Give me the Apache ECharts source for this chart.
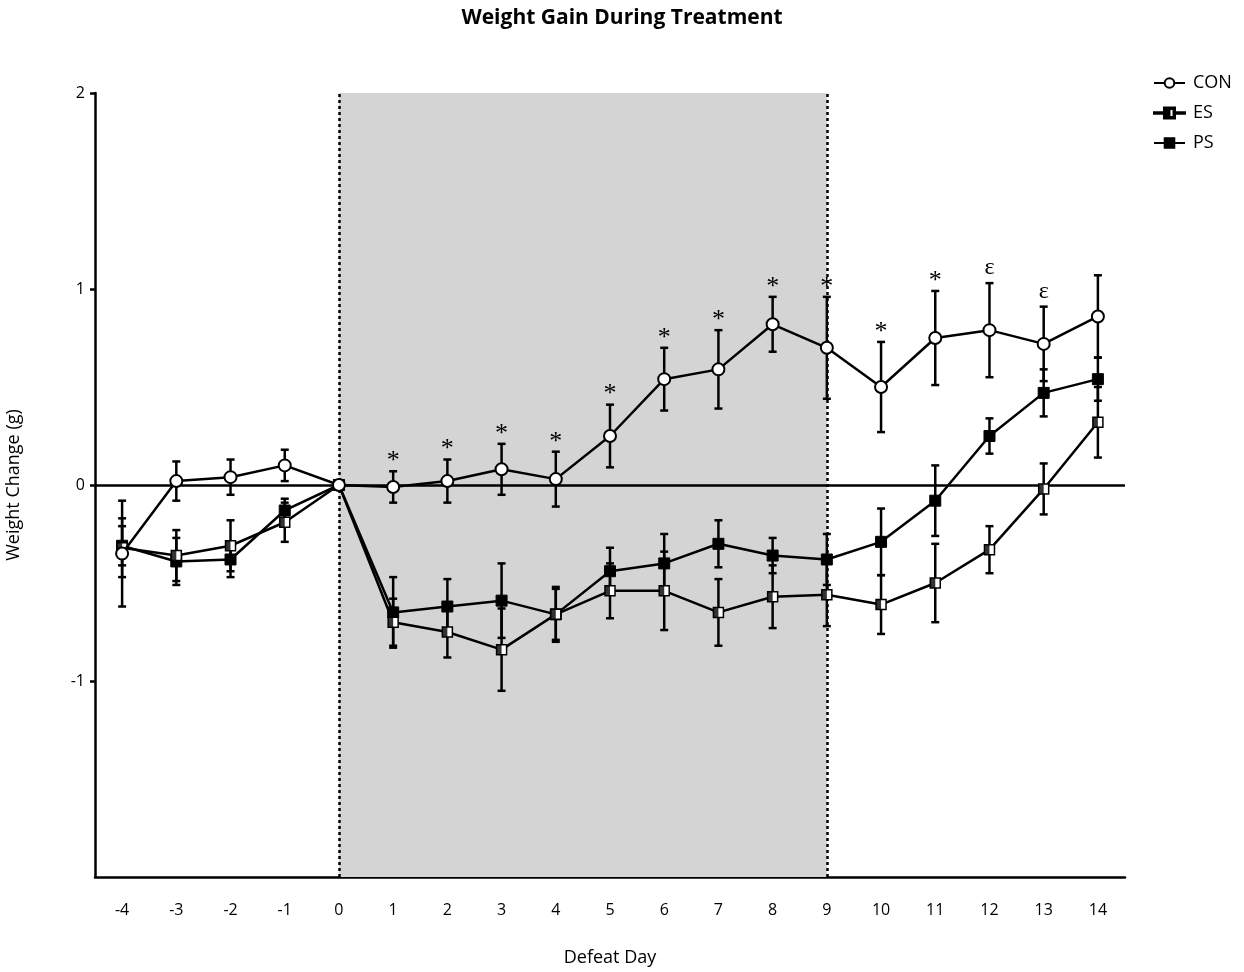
<!DOCTYPE html>
<html>
<head>
<meta charset="utf-8">
<script src="https://cdn.jsdelivr.net/npm/echarts@6/dist/echarts.min.js"></script>
<style>
  html, body { margin: 0; padding: 0; background: #fff; }
  #chart { width: 1244px; height: 972px; }
</style>
</head>
<body>
<div id="chart"></div>
<script>
// defeat days
const days = ['-4', '-3', '-2', '-1', '0', '1', '2', '3', '4', '5', '6', '7', '8', '9', '10', '11', '12', '13', '14']

// mean weight change (g) and error per group
const conMean = [-0.35, 0.02, 0.04, 0.10, 0, -0.01, 0.02, 0.08, 0.03, 0.25, 0.54, 0.59, 0.82, 0.70, 0.50, 0.75, 0.79, 0.72, 0.86]
const conErr = [0.27, 0.10, 0.09, 0.08, 0, 0.08, 0.11, 0.13, 0.14, 0.16, 0.16, 0.20, 0.14, 0.26, 0.23, 0.24, 0.24, 0.19, 0.21]
const esMean = [-0.32, -0.36, -0.31, -0.19, 0, -0.70, -0.75, -0.84, -0.66, -0.54, -0.54, -0.65, -0.57, -0.56, -0.61, -0.50, -0.33, -0.02, 0.32]
const esErr = [0.15, 0.13, 0.13, 0.10, 0, 0.12, 0.13, 0.21, 0.13, 0.14, 0.20, 0.17, 0.16, 0.16, 0.15, 0.20, 0.12, 0.13, 0.18]
const psMean = [-0.31, -0.39, -0.38, -0.13, 0, -0.65, -0.62, -0.59, -0.66, -0.44, -0.40, -0.30, -0.36, -0.38, -0.29, -0.08, 0.25, 0.47, 0.54]
const psErr = [0.10, 0.12, 0.09, 0.06, 0, 0.18, 0.14, 0.19, 0.14, 0.12, 0.15, 0.12, 0.09, 0.13, 0.17, 0.18, 0.09, 0.12, 0.11]

// significance marks above CON
const marks = ['', '', '', '', '', '*', '*', '*', '*', '*', '*', '*', '*', '*', '*', '*', 'ε', 'ε', '']

// y ticks shown (no label at -2)
const yTicks = [-1, 0, 1, 2]

// treatment window
const treatStart = '0'
const treatEnd = '9'

const font = 'Open Sans'

// half filled square on a line, for the ES legend entry (31 x 12 box)
const esIcon = 'path://M0,5.2H10V6.8H0Z M10,0.5H21V11.5H10Z M15.5,2V10H19.5V2Z M21,5.2H31V6.8H21Z'

function errData(mean, err) {
  return mean.map((m, i) => [i, m - err[i], m + err[i]])
}

function errBars(params, api) {
  const lo = api.coord([api.value(0), api.value(1)])
  const hi = api.coord([api.value(0), api.value(2)])
  if (Math.abs(lo[1] - hi[1]) < 1) return
  const w = 4
  const style = { stroke: '#000', lineWidth: 2.5 }
  return {
    type: 'group',
    children: [
      { type: 'line', shape: { x1: lo[0], y1: lo[1], x2: hi[0], y2: hi[1] }, style },
      { type: 'line', shape: { x1: lo[0] - w, y1: lo[1], x2: lo[0] + w, y2: lo[1] }, style },
      { type: 'line', shape: { x1: hi[0] - w, y1: hi[1], x2: hi[0] + w, y2: hi[1] }, style },
    ],
  }
}

let markData = []
marks.forEach((m, i) => {
  if (m) markData.push([i, conMean[i] + conErr[i], m])
})

const chart = echarts.init(document.getElementById('chart'))

const option = {
  animation: false,
  title: {
    text: 'Weight Gain During Treatment',
    left: 'center',
    top: 3,
    textStyle: { fontFamily: font, fontSize: 21, fontWeight: 'bold', color: '#000' },
  },
  legend: {
    orient: 'vertical',
    left: 1148,
    top: 69,
    itemGap: 12,
    itemWidth: 31,
    itemHeight: 12,
    textStyle: { fontFamily: font, fontSize: 18, color: '#000', padding: [0, 0, 0, 3] },
    data: [
      { name: 'CON' },
      { name: 'ES', icon: esIcon, itemStyle: { color: '#000' } },
      { name: 'PS' },
    ],
  },
  grid: { left: 95, right: 119, top: 93, bottom: 95, outerBoundsMode: 'none' },
  xAxis: {
    type: 'category',
    data: days,
    name: 'Defeat Day',
    nameLocation: 'middle',
    nameGap: 72,
    nameTextStyle: { fontFamily: font, fontSize: 18, color: '#000' },
    axisLine: { onZero: false, lineStyle: { color: '#000', width: 2.5 } },
    axisTick: { alignWithLabel: true, length: 6, lineStyle: { color: '#000', width: 2.5 } },
    axisLabel: { fontFamily: font, fontSize: 16, color: '#000', margin: 25 },
    splitLine: { show: false },
  },
  yAxis: {
    type: 'value',
    min: -2,
    max: 2,
    interval: 1,
    name: 'Weight Change (g)',
    nameLocation: 'middle',
    nameGap: 72,
    nameTextStyle: { fontFamily: font, fontSize: 18, color: '#000' },
    axisLine: { show: true, lineStyle: { color: '#000', width: 2.5 } },
    axisTick: { show: true, length: 5, customValues: yTicks, lineStyle: { color: '#000', width: 2.5 } },
    axisLabel: { fontFamily: font, fontSize: 16, color: '#000', margin: 10, customValues: yTicks },
    splitLine: { show: false },
  },
  series: [
    {
      name: 'shade',
      type: 'line',
      data: [],
      silent: true,
      z: 0,
      markArea: {
        silent: true,
        itemStyle: { color: '#d4d4d4' },
        data: [[{ xAxis: treatStart }, { xAxis: treatEnd }]],
      },
      markLine: {
        silent: true,
        symbol: 'none',
        label: { show: false },
        lineStyle: { color: '#000', width: 2.5, type: [3, 3] },
        data: [{ xAxis: treatStart }, { xAxis: treatEnd }],
      },
    },
    {
      name: 'zero',
      type: 'line',
      data: [],
      silent: true,
      z: 1,
      markLine: {
        silent: true,
        symbol: 'none',
        label: { show: false },
        lineStyle: { color: '#000', width: 2.5, type: 'solid' },
        data: [{ yAxis: 0 }],
      },
    },
    {
      name: 'conErr',
      type: 'custom',
      renderItem: errBars,
      data: errData(conMean, conErr),
      z: 3,
      silent: true,
    },
    {
      name: 'esErr',
      type: 'custom',
      renderItem: errBars,
      data: errData(esMean, esErr),
      z: 3,
      silent: true,
    },
    {
      name: 'psErr',
      type: 'custom',
      renderItem: errBars,
      data: errData(psMean, psErr),
      z: 3,
      silent: true,
    },
    {
      name: 'PS',
      type: 'line',
      data: psMean,
      symbol: 'rect',
      symbolSize: 11,
      showAllSymbol: true,
      lineStyle: { color: '#000', width: 2.5 },
      itemStyle: { color: '#000', borderColor: '#000', borderWidth: 1 },
      z: 4,
    },
    {
      name: 'ES',
      type: 'line',
      data: esMean,
      symbol: 'rect',
      symbolSize: 10,
      showAllSymbol: true,
      lineStyle: { color: '#000', width: 2.5 },
      itemStyle: { color: '#fff', borderColor: '#000', borderWidth: 1.5 },
      z: 5,
    },
    {
      name: 'esHalf',
      type: 'scatter',
      data: esMean.map((v, i) => [i, v]),
      symbol: 'rect',
      symbolSize: [5, 10],
      symbolOffset: [-2.5, 0],
      itemStyle: { color: '#000' },
      silent: true,
      z: 6,
    },
    {
      name: 'CON',
      type: 'line',
      data: conMean,
      symbol: 'circle',
      symbolSize: 12,
      showAllSymbol: true,
      lineStyle: { color: '#000', width: 2.5 },
      itemStyle: { color: '#fff', borderColor: '#000', borderWidth: 2 },
      z: 7,
    },
    {
      name: 'marks',
      type: 'custom',
      data: markData,
      silent: true,
      z: 8,
      renderItem: (params, api) => {
        const p = api.coord([api.value(0), api.value(1)])
        const txt = markData[params.dataIndex][2]
        return {
          type: 'text',
          style: {
            text: txt,
            x: p[0],
            y: txt === '*' ? p[1] + 3 : p[1] - 3,
            align: 'center',
            verticalAlign: 'bottom',
            fontFamily: 'Liberation Serif',
            fontSize: txt === '*' ? 26 : 24,
            fill: '#000',
          },
        }
      },
    },
  ],
}

chart.setOption(option)
</script>
</body>
</html>
